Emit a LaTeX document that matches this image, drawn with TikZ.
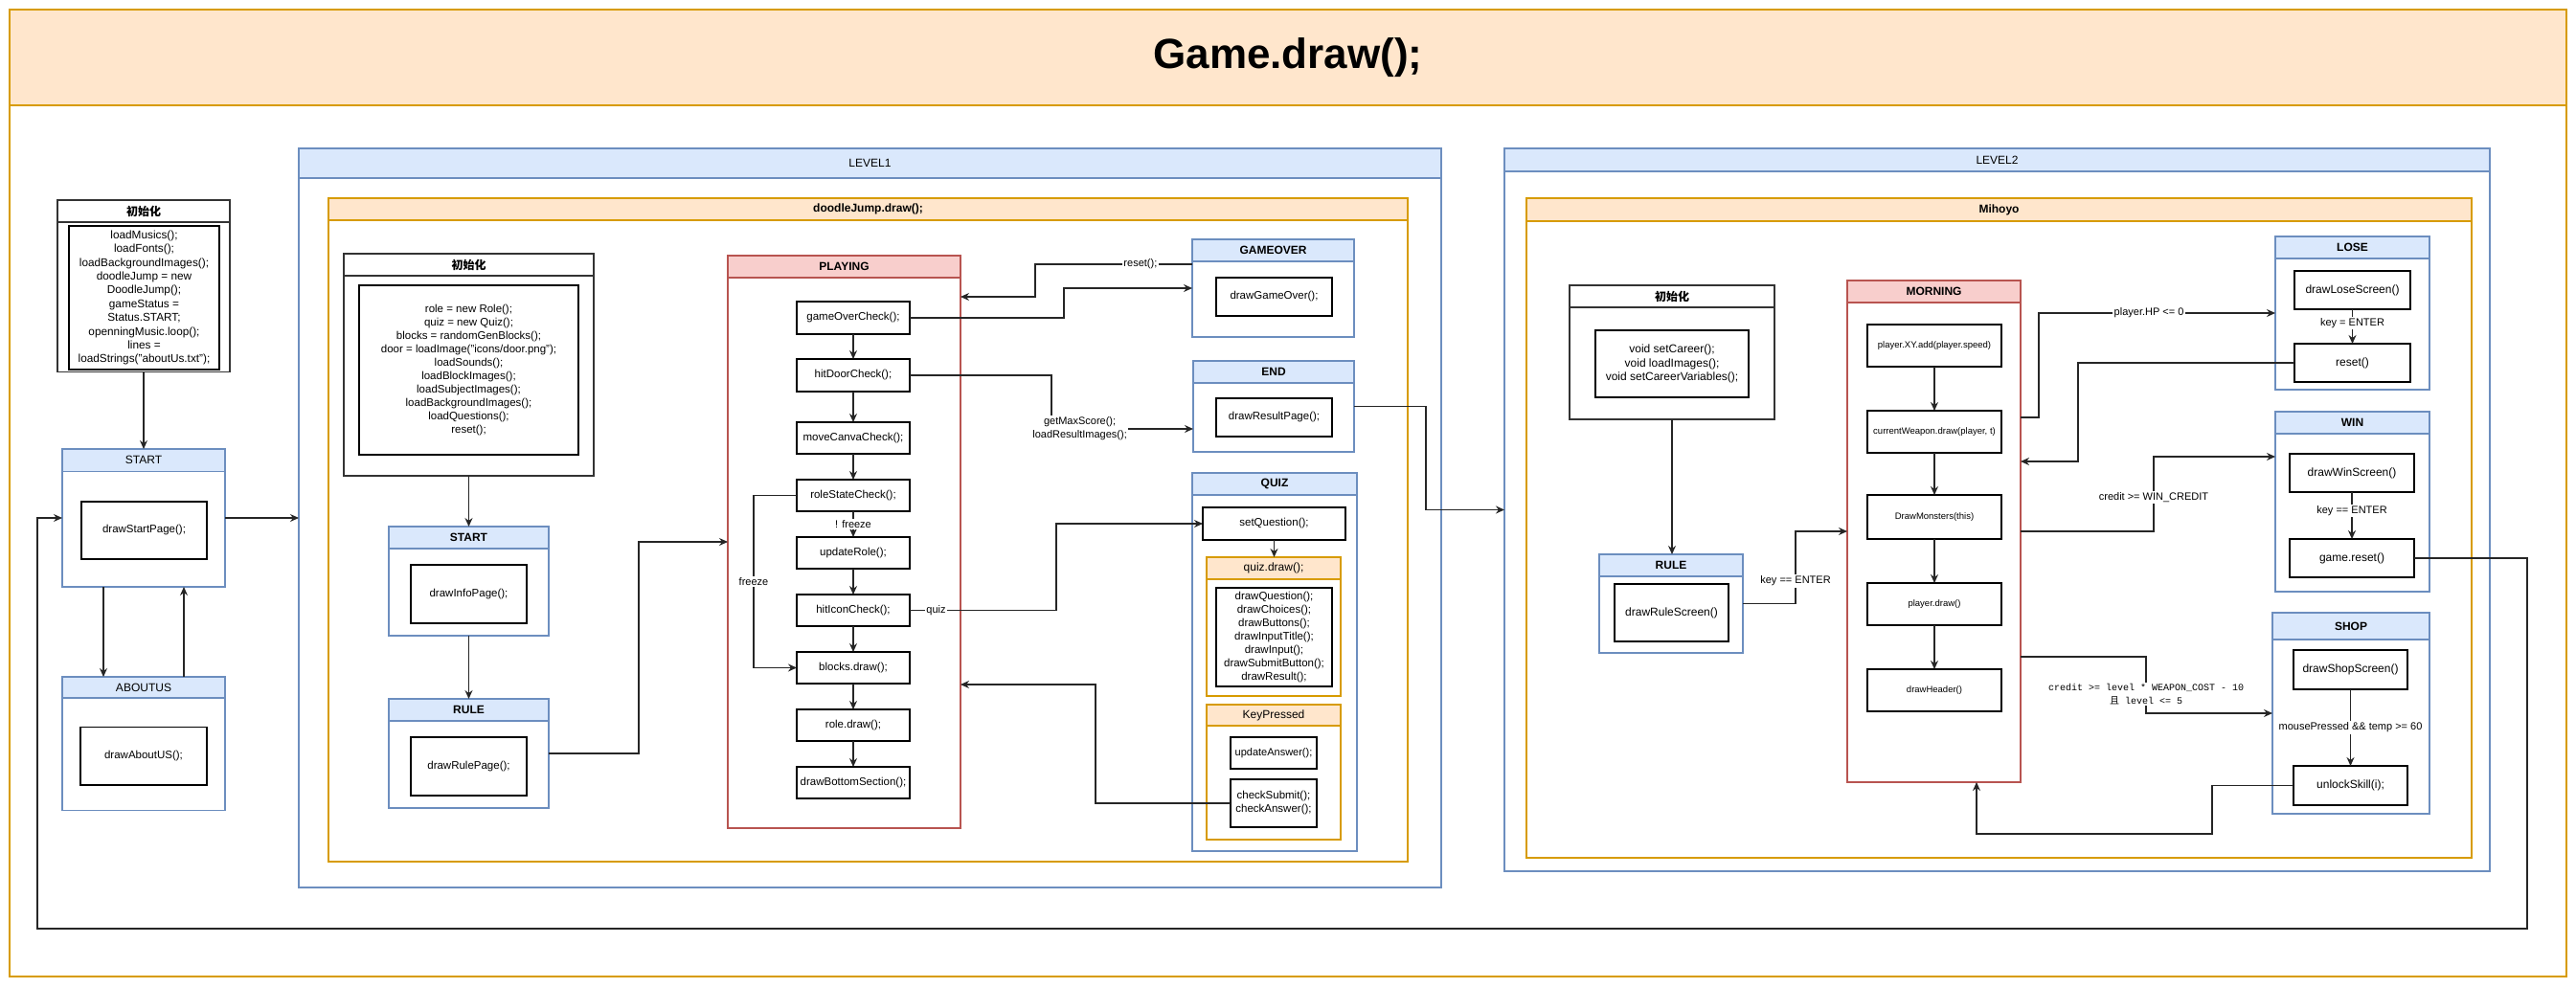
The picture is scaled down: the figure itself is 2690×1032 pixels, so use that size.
\documentclass[tikz,border=0pt]{standalone}
\usepackage{fontspec}
\setmainfont{Liberation Sans}
\setmonofont{Liberation Mono}
\newfontfamily\cjk{Noto Sans CJK SC}
\usetikzlibrary{arrows.meta}
\definecolor{blueF}{HTML}{DAE8FC}
\definecolor{blueD}{HTML}{6C8EBF}
\definecolor{orF}{HTML}{FFE6CC}
\definecolor{orD}{HTML}{D79B00}
\definecolor{redF}{HTML}{F8CECC}
\definecolor{redD}{HTML}{B85450}
\tikzset{
 base/.style={inner sep=0pt, outer sep=0pt, line width=1.2pt},
 bluebody/.style={base, draw=blueD, fill=white},
 bluehead/.style={base, draw=blueD, fill=blueF},
 orbody/.style={base, draw=orD, fill=white},
 orhead/.style={base, draw=orD, fill=orF},
 redbody/.style={base, draw=redD, fill=white},
 redhead/.style={base, draw=redD, fill=redF},
 blkbody/.style={base, draw=black!80, fill=white},
 blkhead/.style={base, draw=black!80, fill=white},
 stepbox/.style={base, draw=black, fill=white, align=center, font=\fontsize{11.5}{14}\selectfont},
 small/.style={font=\fontsize{9.5}{12}\selectfont},
 arr/.style={draw=black!85, line width=1.2pt, -{Stealth[length=9pt,width=8pt]}},
 elab/.style={fill=white, inner sep=1.5pt, font=\fontsize{11}{14}\selectfont, align=center},
 monolab/.style={fill=white, inner sep=1.5pt, font=\ttfamily\fontsize{10}{14}\selectfont, align=center},
 hb/.style={font=\bfseries\fontsize{12}{14}\selectfont},
 hr/.style={font=\fontsize{12}{14}\selectfont},
}
% name, x1, y1, x2, y2, header bottom, kind, font style, title
\newcommand\lane[9]{%
 \node[#7body, anchor=north west, minimum width={(#4-#2)*1pt}, minimum height={(#5-#3)*1pt}] (#1) at (#2,#3) {};
 \node[#7head, anchor=north west, minimum width={(#4-#2)*1pt}, minimum height={(#6-#3)*1pt}, #8] (#1-h) at (#2,#3) {#9};}
% [style] name, x1, y1, x2, y2, text
\newcommand\bx[7][]{%
 \node[stepbox, anchor=north west, minimum width={(#5-#3)*1pt}, minimum height={(#6-#4)*1pt}, #1] (#2) at (#3,#4) {#7};}
\begin{document}
\begin{tikzpicture}[x=1pt,y=-1pt]
\useasboundingbox (0,0) rectangle (2690,1032);
\lane{game}{10}{10}{2680}{1020}{110}{or}{font=\bfseries\fontsize{44}{50}\selectfont}{Game.draw();}

% ---- left column
\lane{init0}{60}{209}{240}{388.5}{232}{blk}{hb}{{\cjk 初始化}}
\bx[font=\fontsize{11.8}{14.4}\selectfont]{init0t}{72}{236}{229}{386}{loadMusics();\\loadFonts();\\loadBackgroundImages();\\doodleJump = new\\DoodleJump();\\gameStatus =\\Status.START;\\openningMusic.loop();\\lines =\\loadStrings("aboutUs.txt");}
\lane{start0}{65}{469}{235}{613}{492.5}{blue}{hr}{START}
\bx{start0t}{85}{524}{216}{584}{drawStartPage();}
\lane{about}{65}{707}{235}{846.5}{729}{blue}{hr}{ABOUTUS}
\bx{aboutt}{84}{759.5}{216}{820}{drawAboutUS();}

% ---- LEVEL1
\lane{lvl1}{312}{155}{1505}{927}{186}{blue}{hr}{LEVEL1}
\lane{doodle}{343}{207}{1470}{900}{230}{or}{hb}{doodleJump.draw();}
\lane{init1}{359}{265}{620}{497}{288}{blk}{hb}{{\cjk 初始化}}
\bx{init1t}{375}{298}{604}{475}{role = new Role();\\quiz = new Quiz();\\blocks = randomGenBlocks();\\door = loadImage("icons/door.png");\\loadSounds();\\loadBlockImages();\\loadSubjectImages();\\loadBackgroundImages();\\loadQuestions();\\reset();}
\lane{start1}{406}{550}{573}{664}{573}{blue}{hb}{START}
\bx{start1t}{429}{590}{550}{651}{drawInfoPage();}
\lane{rule1}{406}{730}{573}{844}{753}{blue}{hb}{RULE}
\bx{rule1t}{429}{770}{550}{831}{drawRulePage();}
\lane{play}{760}{267}{1003}{865}{290}{red}{hb}{PLAYING}
\bx{go}{832}{315}{950}{349}{gameOverCheck();}
\bx{hd}{832}{375}{950}{409}{hitDoorCheck();}
\bx{mc}{832}{441}{950}{474}{moveCanvaCheck();}
\bx{rs}{832}{501}{950}{534}{roleStateCheck();}
\bx{ur}{832}{561}{950}{594}{updateRole();}
\bx{hi}{832}{621}{950}{654}{hitIconCheck();}
\bx{bd}{832}{681}{950}{714}{blocks.draw();}
\bx{rd}{832}{741}{950}{774}{role.draw();}
\bx{bs}{832}{801}{950}{834}{drawBottomSection();}
\lane{gov}{1245}{250}{1414}{352}{273}{blue}{hb}{GAMEOVER}
\bx{govt}{1270}{290}{1391}{330}{drawGameOver();}
\lane{endb}{1246}{377}{1414}{472}{400}{blue}{hb}{END}
\bx{endt}{1270}{416}{1391}{456}{drawResultPage();}
\lane{quiz}{1245}{494}{1417}{889}{517}{blue}{hb}{QUIZ}
\bx{setq}{1256}{530}{1405}{564}{setQuestion();}
\lane{qdraw}{1260}{582}{1400}{727}{605}{or}{hr}{quiz.draw();}
\bx{qdrawt}{1270}{614}{1391}{717}{drawQuestion();\\drawChoices();\\drawButtons();\\drawInputTitle();\\drawInput();\\drawSubmitButton();\\drawResult();}
\lane{keyp}{1260}{736}{1400}{877}{758}{or}{hr}{KeyPressed}
\bx[font=\fontsize{11}{14}\selectfont]{ua}{1285}{770}{1375}{803}{updateAnswer();}
\bx{cs}{1285}{814}{1375}{864}{checkSubmit();\\checkAnswer();}

% ---- LEVEL2
\lane{lvl2}{1571}{155}{2600}{910}{179}{blue}{hr}{LEVEL2}
\lane{miho}{1594}{207}{2581}{896}{231}{or}{hb}{Mihoyo}
\lane{init2}{1639}{298}{1853}{438}{321}{blk}{hb}{{\cjk 初始化}}
\bx[font=\fontsize{12}{14.5}\selectfont]{init2t}{1666}{345}{1826}{415}{void setCareer();\\void loadImages();\\void setCareerVariables();}
\lane{rule2}{1670}{579}{1820}{682}{602}{blue}{hb}{RULE}
\bx[font=\fontsize{12}{14}\selectfont]{rule2t}{1686}{610}{1805}{670}{drawRuleScreen()}
\lane{morn}{1929}{293}{2110}{817}{316}{red}{hb}{MORNING}
\bx[small]{px}{1950}{339}{2090}{383}{player.XY.add(player.speed)}
\bx[small]{cw}{1950}{429}{2090}{473}{currentWeapon.draw(player, t)}
\bx[small]{dm}{1950}{517}{2090}{563}{DrawMonsters(this)}
\bx[small]{pd}{1950}{609}{2090}{653}{player.draw()}
\bx[small]{dh}{1950}{699}{2090}{743}{drawHeader()}
\lane{lose}{2376}{247}{2537}{407}{270}{blue}{hb}{LOSE}
\bx[font=\fontsize{12}{14}\selectfont]{dls}{2396}{283}{2517}{323}{drawLoseScreen()}
\bx[font=\fontsize{12}{14}\selectfont]{rst}{2396}{359}{2517}{399}{reset()}
\lane{win}{2376}{430}{2537}{618}{453}{blue}{hb}{WIN}
\bx[font=\fontsize{12}{14}\selectfont]{dws}{2391}{474}{2521}{514}{drawWinScreen()}
\bx[font=\fontsize{12}{14}\selectfont]{grs}{2391}{563}{2521}{603}{game.reset()}
\lane{shop}{2373}{640}{2537}{850}{668}{blue}{hb}{SHOP}
\bx[font=\fontsize{12}{14}\selectfont]{dss}{2395}{679}{2514}{720}{drawShopScreen()}
\bx[font=\fontsize{12}{14}\selectfont]{uls}{2395}{800}{2514}{841}{unlockSkill(i);}

% ---- connectors: left column
\draw[arr] (init0.south) -- (start0.north);
\draw[arr] ([xshift=-42pt]start0.south) -- ([xshift=-42pt]about.north);
\draw[arr] ([xshift=42pt]about.north) -- ([xshift=42pt]start0.south);
\draw[arr] (start0.east) -- (start0.east -| lvl1.west);

% ---- connectors: LEVEL1
\draw[arr] (init1.south) -- (start1.north);
\draw[arr] (start1.south) -- (rule1.north);
\draw[arr] (rule1.east) -- ++(94,0) |- (play.west);
\foreach \a/\b in {go/hd,hd/mc,mc/rs,ur/hi,hi/bd,bd/rd,rd/bs}
  \draw[arr] (\a.south) -- (\b.north);
\draw[arr] (rs.south) -- node[elab]{! freeze} (ur.north);
\draw[arr] (rs.west) -- ++(-45,0) |- node[elab,pos=0.25]{freeze} (bd.west);
\draw[arr] (go.east) -- ++(161,0) |- (gov.west);
\draw[arr] ([yshift=25pt]gov.west) -- node[elab,pos=0.33]{reset();} ++(-164,0) |- ([yshift=256pt]play.east);
\draw[arr] (hd.east) -- ++(148,0) |- node[elab,pos=0.6]{getMaxScore();\\loadResultImages();} ([yshift=-23.5pt]endb.west);
\draw[arr] (endb.east) -- ++(75,0) |- (lvl2.west);
\draw[arr] (hi.east) -- node[elab,pos=0.18]{quiz} ++(153,0) |- (setq.west);
\draw[arr] (setq.south) -- (setq.south |- qdraw.north);
\draw[arr] (cs.west) -- ++(-141,0) |- ([yshift=-149pt]play.east);

% ---- connectors: LEVEL2
\draw[arr] (init2.south) -- (init2.south |- rule2.north);
\draw[arr] (rule2.east) -- ++(55,0) |- node[elab,pos=0.155]{key == ENTER} (morn.west);
\foreach \a/\b in {px/cw,cw/dm,dm/pd,pd/dh}
  \draw[arr] (\a.south) -- (\b.north);
\draw[arr] ([yshift=119pt]morn.east) -- ++(19,0) |- node[elab,pos=0.733]{player.HP <= 0} (lose.west);
\draw[arr] (rst.west) -- ++(-226,0) |- ([yshift=73pt]morn.east);
\draw[arr] (morn.east) -- ++(139,0) |- node[elab,pos=0.225]{credit >= WIN\_CREDIT} ([yshift=47pt]win.west);
\draw[arr] ([yshift=-131pt]morn.east) -- ++(131,0) |- node[monolab,pos=0.33]{credit >= level * WEAPON\_COST - 10\\{\cjk 且} level <= 5} (shop.west);
\draw[arr] (uls.west) -- ++(-85,0) -- ++(0,50.5) -| ([xshift=44.5pt]morn.south);
\draw[arr] (dls.south) -- node[elab,pos=0.4]{key = ENTER} (rst.north);
\draw[arr] (dws.south) -- node[elab,pos=0.4]{key == ENTER} (grs.north);
\draw[arr] (dss.south) -- node[elab]{mousePressed \&\& temp >= 60} (uls.north);
\coordinate (loopc) at (39,970);
\draw[arr] (grs.east) -- ++(118,0) |- (loopc) |- (start0.west);
\end{tikzpicture}
\end{document}
